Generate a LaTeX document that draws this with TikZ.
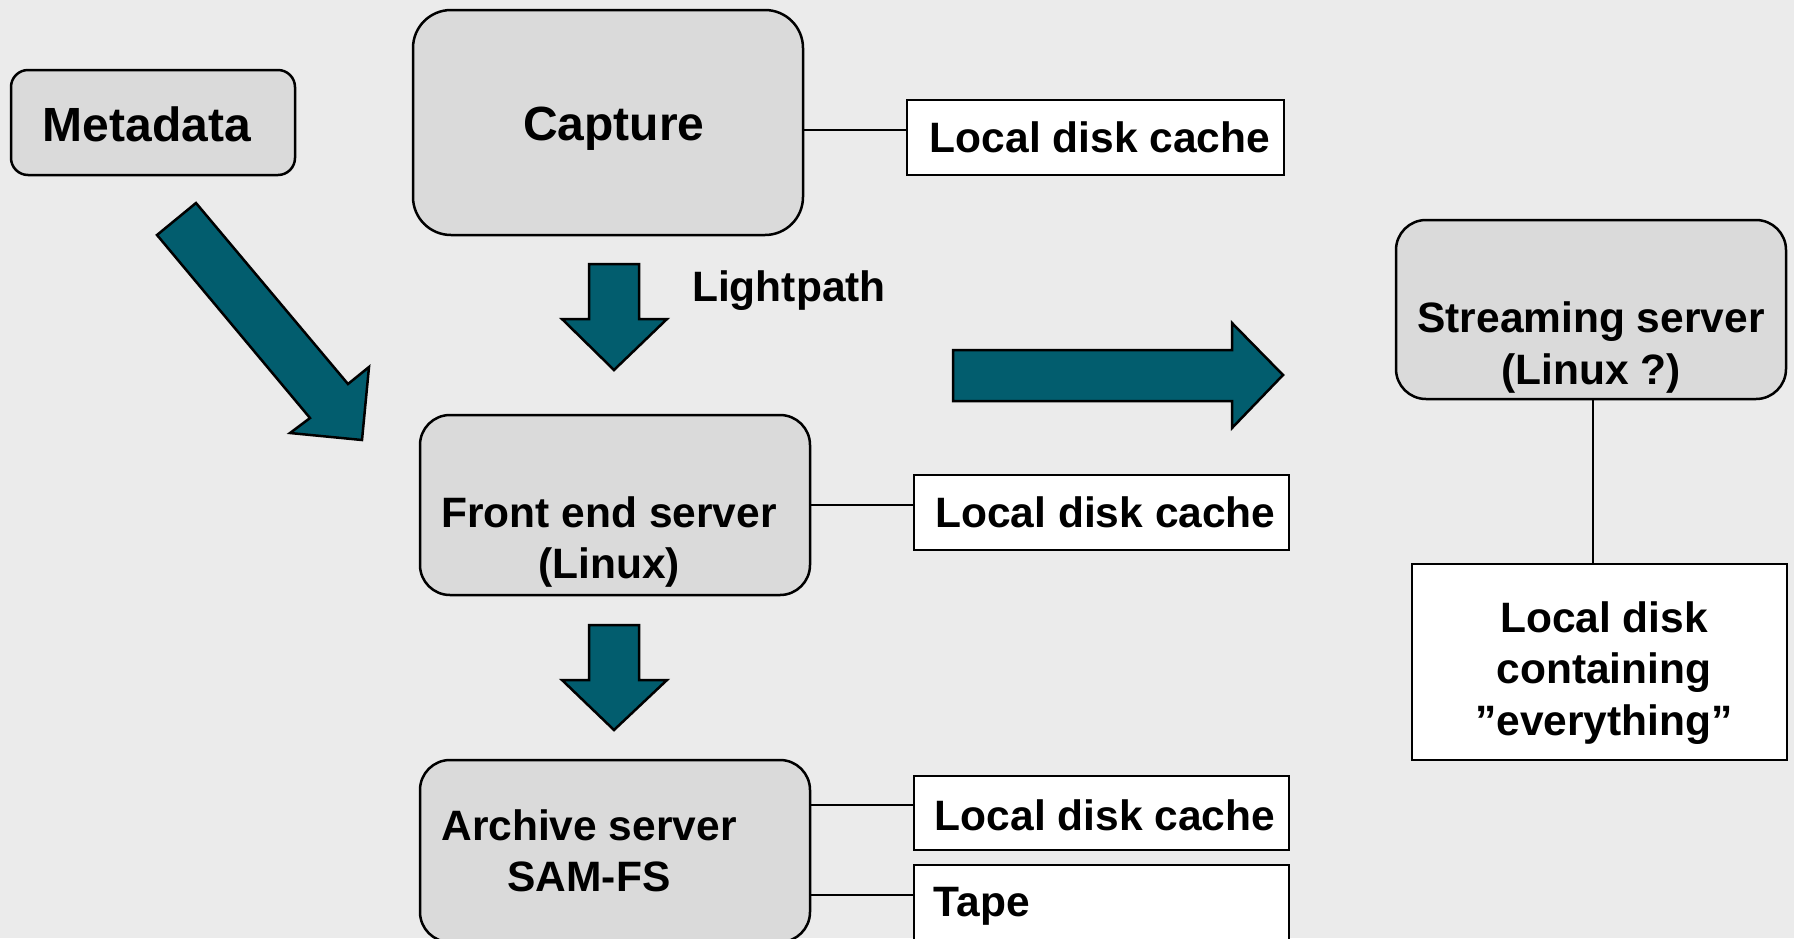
\documentclass[tikz,border=0pt]{standalone}
\usepackage{fontspec}
\setmainfont{Liberation Sans}
\definecolor{bggray}{HTML}{EBEBEB}
\definecolor{boxgray}{HTML}{DADADA}
\definecolor{teal}{HTML}{025D6E}
\begin{document}
\begin{tikzpicture}[x=1pt,y=-1pt,
  lbl/.style={font=\bfseries\fontsize{42.5}{51.5}\selectfont, align=center, inner sep=0pt},
  srv/.style={draw=black, line width=2.5pt, fill=boxgray, rounded corners=#1, inner sep=0pt,
    font=\bfseries\fontsize{42.5}{51.5}\selectfont, align=center},
  srv/.default=30pt,
  disk/.style={draw=black, line width=2.5pt, fill=white, inner sep=0pt,
    font=\bfseries\fontsize{42.5}{51.5}\selectfont, align=center},
  conn/.style={draw=black, line width=2pt},
  blockarrow/.style={fill=teal, draw=black, line width=2.5pt, line join=miter}]
\useasboundingbox (0,0) rectangle (1794,938);
\fill[bggray] (0,0) rectangle (1794,938);

% nodes
\node[srv=17pt, minimum width=284pt, minimum height=105pt,
  label={[lbl, font=\bfseries\fontsize{48}{56}\selectfont, xshift=-6pt, yshift=-2pt]center:Metadata}] (meta) at (153,122.5) {};
\node[srv=38pt, minimum width=390pt, minimum height=225pt,
  label={[lbl, font=\bfseries\fontsize{48}{56}\selectfont, xshift=6pt, yshift=-6pt]center:Capture}] (cap) at (608,122.5) {};
\node[disk, minimum width=377pt, minimum height=75pt,
  label={[lbl, xshift=4.5pt, yshift=0pt]center:Local disk cache}] (ldc1) at (1095.5,137.5) {};

\node[srv, minimum width=390pt, minimum height=180pt,
  label={[lbl, xshift=-6pt, yshift=-37pt]center:{Front end server\\(Linux)}}] (fe) at (615,505) {};
\node[disk, minimum width=375pt, minimum height=75pt,
  label={[lbl, xshift=4pt, yshift=0pt]center:Local disk cache}] (ldc2) at (1101.5,512.5) {};

\node[srv, minimum width=390pt, minimum height=182pt,
  label={[lbl, xshift=-26pt, yshift=0pt]center:{Archive server\\SAM-FS}}] (arc) at (615,851) {};
\node[disk, minimum width=375pt, minimum height=74pt,
  label={[lbl, xshift=3.5pt, yshift=-2pt]center:Local disk cache}] (ldc3) at (1101.5,813) {};
\node[disk, minimum width=375pt, minimum height=95pt,
  label={[lbl, anchor=west, xshift=21pt, yshift=6pt]west:Tape}] (tape) at (1101.5,912.5) {};

\node[srv, minimum width=390pt, minimum height=179pt,
  label={[lbl, yshift=-38pt]center:{Streaming server\\(Linux ?)}}] (ss) at (1591,309.5) {};
\node[disk, minimum width=375pt, minimum height=196pt,
  label={[lbl, xshift=4.5pt, yshift=-11pt]center:{Local disk\\containing\\”everything”}}] (ld) at (1599.5,662) {};

\node[lbl, anchor=west] (lp) at (692,290.5) {Lightpath};

% connectors
\draw[conn] ([yshift=-7.5pt]cap.east) -- ([yshift=7.5pt]ldc1.west);
\draw[conn] (fe.east) -- (fe.east -| ldc2.west);
\draw[conn] ([yshift=8pt]ldc3.west) -- ([yshift=8pt]ldc3.west -| arc.east);
\draw[conn] ([yshift=17.5pt]tape.west) -- ([yshift=17.5pt]tape.west -| arc.east);
\draw[conn] ([xshift=2pt]ss.south) -- ([xshift=2pt]ss.south |- ld.north);

% block arrows
\draw[blockarrow] (157,235) -- (196,203) -- (348,384) -- (369,367) -- (362,440) -- (290,433) -- (310,418) -- cycle;
\draw[blockarrow] (589,264) -- (639,264) -- (639,319) -- (667,319) -- (614,370) -- (562,319) -- (589,319) -- cycle;
\draw[blockarrow] (589,625) -- (639,625) -- (639,680) -- (667,680) -- (614,730) -- (562,680) -- (589,680) -- cycle;
\draw[blockarrow] (953,350) -- (1232,350) -- (1232,323) -- (1283,375) -- (1232,428) -- (1232,401) -- (953,401) -- cycle;
\end{tikzpicture}
\end{document}
